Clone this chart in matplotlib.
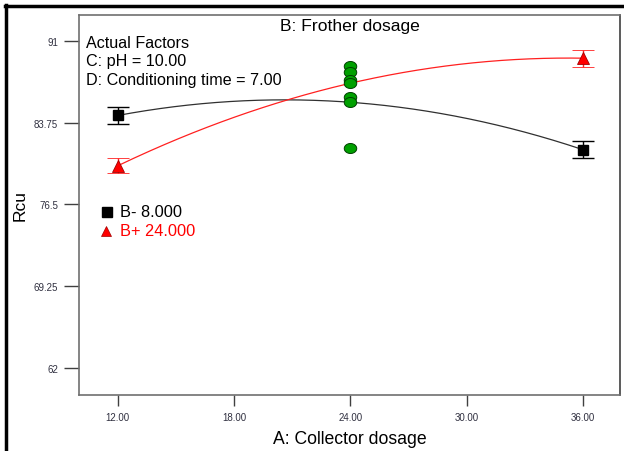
import numpy as np
import matplotlib
matplotlib.use("Agg")
import matplotlib.pyplot as plt
from matplotlib.path import Path
from matplotlib.lines import Line2D

plt.rcParams['font.family'] = ['Liberation Sans', 'DejaVu Sans']

# Factor levels of A (collector dosage) and predicted response at low / centre / high A
a_levels = [12.0, 24.0, 36.0]
rcu_b_low = [84.39, 85.56, 81.35]     # B- 8.000
rcu_b_high = [79.93, 87.25, 89.47]    # B+ 24.000
err_b_low = [0.73, 0.75]              # LSD half-widths at A = 12, 36
err_b_high = [0.68, 0.75]

# Centre-point observations (A = 24)
centre_a = 24.0
centre_rcu = [88.76, 88.28, 87.54, 87.25, 86.01, 85.56, 81.51]

x_ticks = [12, 18, 24, 30, 36]
x_tick_labels = ["12.00", "18.00", "24.00", "30.00", "36.00"]
y_ticks = [62, 69.25, 76.5, 83.75, 91]
y_tick_labels = ["62", "69.25", "76.5", "83.75", "91"]

W, H = 624, 452
fig = plt.figure(figsize=(W / 100, H / 100), dpi=100)
fig.patch.set_facecolor("white")

L, R, T, B = 79, 620, 16, 396
ax = fig.add_axes([L / W, 1 - B / H, (R - L) / W, (B - T) / H])
ax.set_xlim(10.0, 37.9)
ax.set_ylim(59.6, 93.3)

# Quadratic model curves through the three predicted points
def quad_curve(xs, ys):
    coef = np.polyfit(xs, ys, 2)
    xx = np.linspace(xs[0], xs[-1], 200)
    return xx, np.polyval(coef, xx)

xx, yy = quad_curve(a_levels, rcu_b_low)
ax.plot(xx, yy, color="#303030", lw=0.9, zorder=2)
xx, yy = quad_curve(a_levels, rcu_b_high)
ax.plot(xx, yy, color="#ff2020", lw=0.9, zorder=2)

ends = [a_levels[0], a_levels[-1]]
low_pts = [rcu_b_low[0], rcu_b_low[-1]]
high_pts = [rcu_b_high[0], rcu_b_high[-1]]
ax.errorbar(ends, low_pts, yerr=err_b_low, fmt="s", ms=7, mfc="black", mec="black",
            ecolor="black", elinewidth=1, capsize=8, capthick=1, zorder=3)
ax.errorbar(ends, high_pts, yerr=err_b_high, fmt="^", ms=8.5, mfc="#ff0000", mec="#a00000",
            mew=0.6, ecolor="#ff2020", elinewidth=1, capsize=8, capthick=1, zorder=3)

# Elliptical marker for centre points
t = np.linspace(0, 2 * np.pi, 41)
ell = Path(np.column_stack([np.cos(t), 0.8 * np.sin(t)]), closed=True)
ax.plot([centre_a] * len(centre_rcu), centre_rcu, linestyle="none", marker=ell, ms=9,
        mfc="#00a000", mec="#004000", mew=0.7, zorder=4)

ax.set_xticks(x_ticks)
ax.set_xticklabels(x_tick_labels)
ax.set_yticks(y_ticks)
ax.set_yticklabels(y_tick_labels)
ax.tick_params(axis="y", direction="out", length=11, width=1, color="#404040",
               labelsize=7, labelcolor="#303040", pad=4)
ax.tick_params(axis="x", direction="out", length=8, width=1, color="#404040",
               labelsize=7, labelcolor="#303040", pad=4)
for s in ax.spines.values():
    s.set_color("#707070")
    s.set_linewidth(1.2)
ax.spines["right"].set_color("#404040")

fig.text((L + R) / 2 / W, 1 - 440 / H, "A: Collector dosage", fontsize=12.7, ha="center", va="center")
fig.text(20 / W, 1 - 206 / H, "Rcu", rotation=90, fontsize=12.5, ha="center", va="center")

fig.text((L + R) / 2 / W, 1 - 26 / H, "B: Frother dosage", fontsize=12.6, ha="center", va="center")
for i, s in enumerate(["Actual Factors", "C: pH = 10.00", "D: Conditioning time = 7.00"]):
    fig.text(86 / W, 1 - (43 + 18.5 * i) / H, s, fontsize=11.6, ha="left", va="center")

# Legend for the B levels
fig.add_artist(Line2D([107 / W], [1 - 213 / H], marker="s", ms=6.5, color="black", transform=fig.transFigure))
fig.add_artist(Line2D([106 / W], [1 - 232 / H], marker="^", ms=7.5, mfc="#ff0000", mec="#a00000",
                      mew=0.5, linestyle="none", transform=fig.transFigure))
fig.text(120 / W, 1 - 213 / H, "B- 8.000", fontsize=11.8, ha="left", va="center", color="black")
fig.text(120 / W, 1 - 232 / H, "B+ 24.000", fontsize=11.8, ha="left", va="center", color="#ff0000")

# Outer frame
fig.add_artist(Line2D([5 / W, 1], [1 - 7 / H, 1 - 7 / H], color="black", lw=2.5, transform=fig.transFigure))
fig.add_artist(Line2D([6 / W, 6 / W], [0, 1 - 6 / H], color="black", lw=2.5, transform=fig.transFigure))

fig.savefig("out.png", dpi=100)
